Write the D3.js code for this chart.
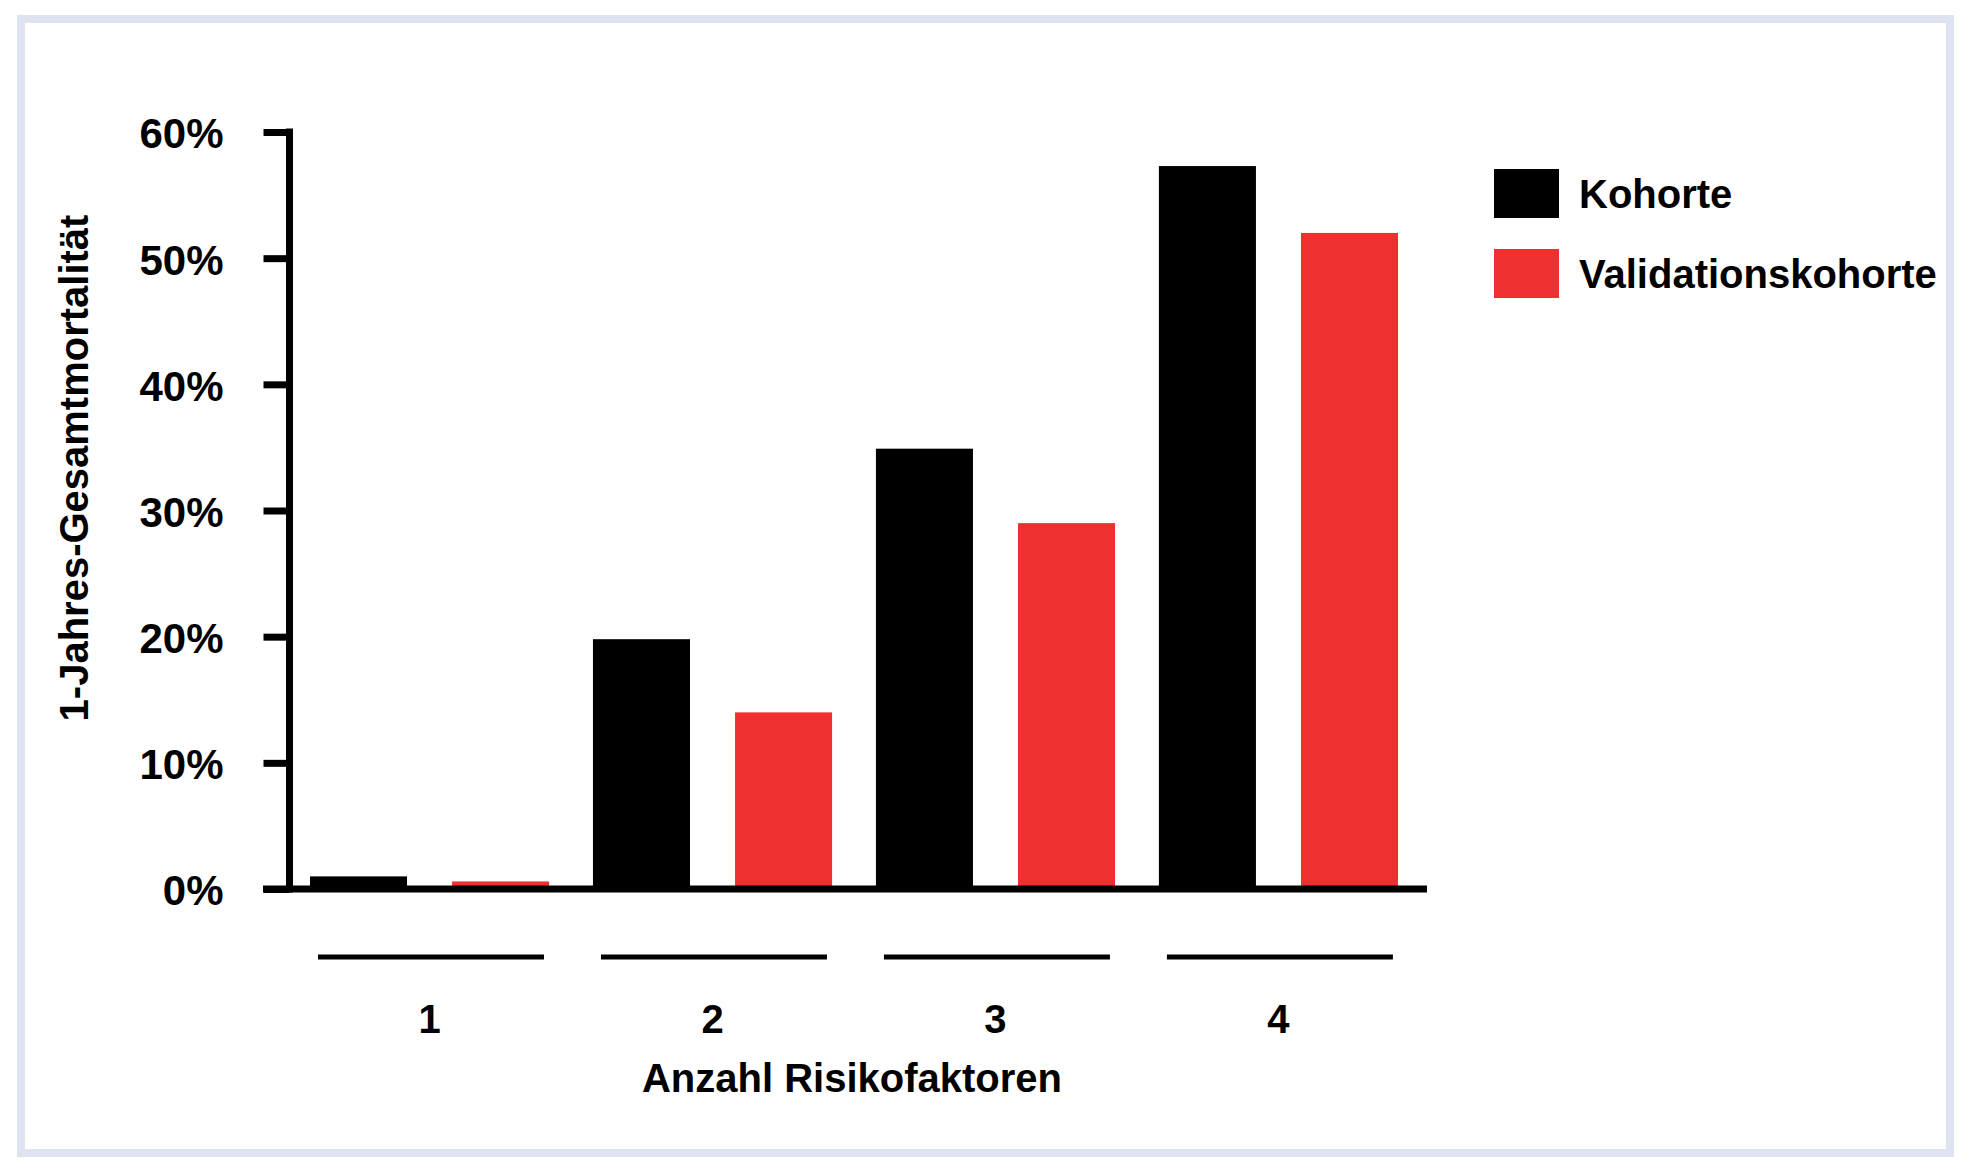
<!DOCTYPE html>
<html>
<head>
<meta charset="utf-8">
<script src="https://cdn.jsdelivr.net/npm/d3@7/dist/d3.min.js"></script>
<style>
  html, body { margin: 0; padding: 0; background: #ffffff; }
  svg { display: block; }
  text { font-family: "Liberation Sans", Arial, Helvetica, sans-serif; font-weight: bold; fill: #000; }
</style>
</head>
<body>
<script>
// ---- data ----
const categories = ["1", "2", "3", "4"];
const seriesNames = ["Kohorte", "Validationskohorte"];
const kohorte = [1.0, 19.8, 34.9, 57.3];
const validationskohorte = [0.6, 14.0, 29.0, 52.0];
const yTicks = [0, 10, 20, 30, 40, 50, 60];
const yTitle = "1-Jahres-Gesamtmortalität";
const xTitle = "Anzahl Risikofaktoren";
const colors = ["#000000", "#ee3130"];

const W = 1980, H = 1176;
const svg = d3.select("body").append("svg").attr("width", W).attr("height", H);

// frame
svg.append("rect")
  .attr("x", 21).attr("y", 19).attr("width", 1929).attr("height", 1134)
  .attr("fill", "#ffffff").attr("stroke", "#dfe3f1").attr("stroke-width", 8);

const table = categories.map((c, i) => ({ cat: c, values: [kohorte[i], validationskohorte[i]] }));

const x0 = d3.scaleBand().domain(categories).range([288, 1420]).paddingInner(0.155).paddingOuter(0.0777);
const x1 = d3.scaleBand().domain(seriesNames).range([0, x0.bandwidth()]).paddingInner(0.317).paddingOuter(0);
const y = d3.scaleLinear().domain([0, 60]).range([889, 132]);

// bars
const g = svg.append("g");
const groups = g.selectAll("g.grp").data(table).enter().append("g")
  .attr("class", "grp")
  .attr("transform", d => `translate(${x0(d.cat)},0)`);
groups.selectAll("rect").data(d => d.values.map((v, k) => ({ v, k }))).enter().append("rect")
  .attr("x", d => x1(seriesNames[d.k]))
  .attr("width", x1.bandwidth())
  .attr("y", d => y(d.v))
  .attr("height", d => y(0) - y(d.v))
  .attr("fill", d => colors[d.k]);

// y axis
const yAxis = d3.axisLeft(y).tickValues(yTicks).tickSize(26).tickPadding(40).tickFormat(d => d + "%");
const ya = svg.append("g").attr("transform", "translate(289.5,0)").call(yAxis);
ya.select(".domain").remove();
ya.selectAll(".tick line").attr("stroke", "#000").attr("stroke-width", 7);
ya.selectAll(".tick text").attr("font-size", 42).attr("font-family", "Liberation Sans, Arial, sans-serif").attr("font-weight", "bold").attr("dy", "0.38em");
ya.append("line").attr("x1", 0).attr("x2", 0).attr("y1", y(60) - 3.5).attr("y2", y(0) + 3.5)
  .attr("stroke", "#000").attr("stroke-width", 7);

// x axis baseline
svg.append("line").attr("x1", 263).attr("x2", 1427).attr("y1", y(0)).attr("y2", y(0))
  .attr("stroke", "#000").attr("stroke-width", 7);

// group brackets and labels
const br = svg.append("g");
br.selectAll("line").data(categories).enter().append("line")
  .attr("x1", d => x0(d) + 8).attr("x2", d => x0(d) + 234)
  .attr("y1", 957).attr("y2", 957)
  .attr("stroke", "#000").attr("stroke-width", 5);
br.selectAll("text").data(categories).enter().append("text")
  .attr("x", d => x0(d) + x0.bandwidth() / 2)
  .attr("y", 1033)
  .attr("text-anchor", "middle")
  .attr("font-size", 40)
  .text(d => d);

// axis titles
svg.append("text").attr("x", 852).attr("y", 1092).attr("text-anchor", "middle")
  .attr("font-size", 40).text(xTitle);
svg.append("text").attr("transform", "translate(88,468) rotate(-90)").attr("text-anchor", "middle")
  .attr("font-size", 40).text(yTitle);

// legend
const lg = svg.append("g").attr("transform", "translate(1494,169)");
const items = lg.selectAll("g").data(seriesNames).enter().append("g")
  .attr("transform", (d, i) => `translate(0,${i * 80})`);
items.append("rect").attr("width", 65).attr("height", 49).attr("fill", (d, i) => colors[i]);
items.append("text").attr("x", 85).attr("y", 39).attr("font-size", 40).text(d => d);
</script>
</body>
</html>
